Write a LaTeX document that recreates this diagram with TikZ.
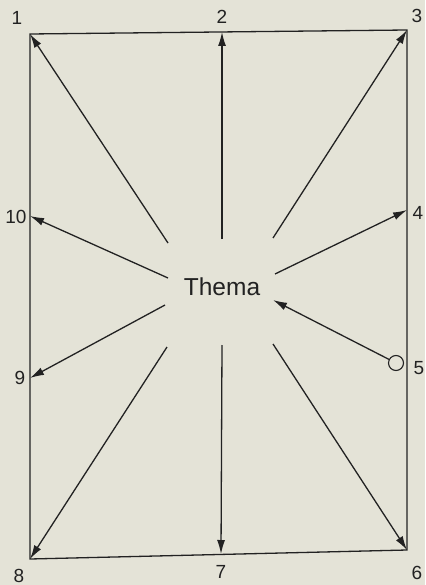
\documentclass[tikz,border=0pt]{standalone}
\usepackage{fontspec}
\setmainfont{Liberation Sans}
\usetikzlibrary{arrows.meta}
\definecolor{paper}{HTML}{E4E3D7}
\definecolor{ink}{HTML}{222222}
\begin{document}
\begin{tikzpicture}[x=1pt,y=-1pt,
  edge/.style={ink, line width=1.3pt},
  arr/.style={ink, line width=1.3pt, -{Latex[length=14pt,width=8pt]}},
  num/.style={font=\fontsize{19}{19}\selectfont, text=ink, inner sep=0pt},
  topic/.style={font=\fontsize{24.5}{24.5}\selectfont, text=ink, inner sep=0pt},
  ring/.style={circle, draw=ink, line width=1.1pt, fill=paper, minimum size=15pt, inner sep=0pt}]
\fill[paper] (0,0) rectangle (425,585);
\useasboundingbox (0,0) rectangle (425,585);
% corner and side points
\coordinate (p1) at (30,34);
\coordinate (p2) at (222,32);
\coordinate (p3) at (407,30);
\coordinate (p4) at (407,210);
\coordinate (p6) at (407,550);
\coordinate (p7) at (221,554);
\coordinate (p8) at (30,559);
\coordinate (p9) at (30,378);
\coordinate (p10) at (30,216);
% frame
\draw[edge] (p1) -- (p3) -- (p6) -- (p8) -- cycle;
% centre
\node[topic] (thema) at (222,287) {Thema};
% tails
\coordinate (t1) at (168,243);
\coordinate (t2) at (222,239);
\coordinate (t3) at (273,238);
\coordinate (t4) at (275,274);
\coordinate (t5) at (273,300);
\coordinate (t6) at (273,344);
\coordinate (t7) at (222,345);
\coordinate (t8) at (167,347);
\coordinate (t9) at (165,305);
\coordinate (t10) at (168,278);
% point 5 ring
\node[ring] (p5) at (396,363) {};
% arrows
\draw[arr] (t1) -- (p1);
\draw[arr] (t2) -- (p2);
\draw[arr] (t3) -- (p3);
\draw[arr] (t4) -- (p4);
\draw[arr] (p5) -- (t5);
\draw[arr] (t6) -- (p6);
\draw[arr] (t7) -- (p7);
\draw[arr] (t8) -- (p8);
\draw[arr] (t9) -- (p9);
\draw[arr] (t10) -- (p10);
% labels
\node[num] (l1) at (17,18) {1};
\node[num] (l2) at (222,17) {2};
\node[num] (l3) at (417,16) {3};
\node[num] (l4) at (418,213) {4};
\node[num] (l5) at (419,368) {5};
\node[num] (l6) at (417,573) {6};
\node[num] (l7) at (221,572) {7};
\node[num] (l8) at (19,576) {8};
\node[num] (l9) at (20,378) {9};
\node[num] (l10) at (16,217) {10};
\end{tikzpicture}
\end{document}
